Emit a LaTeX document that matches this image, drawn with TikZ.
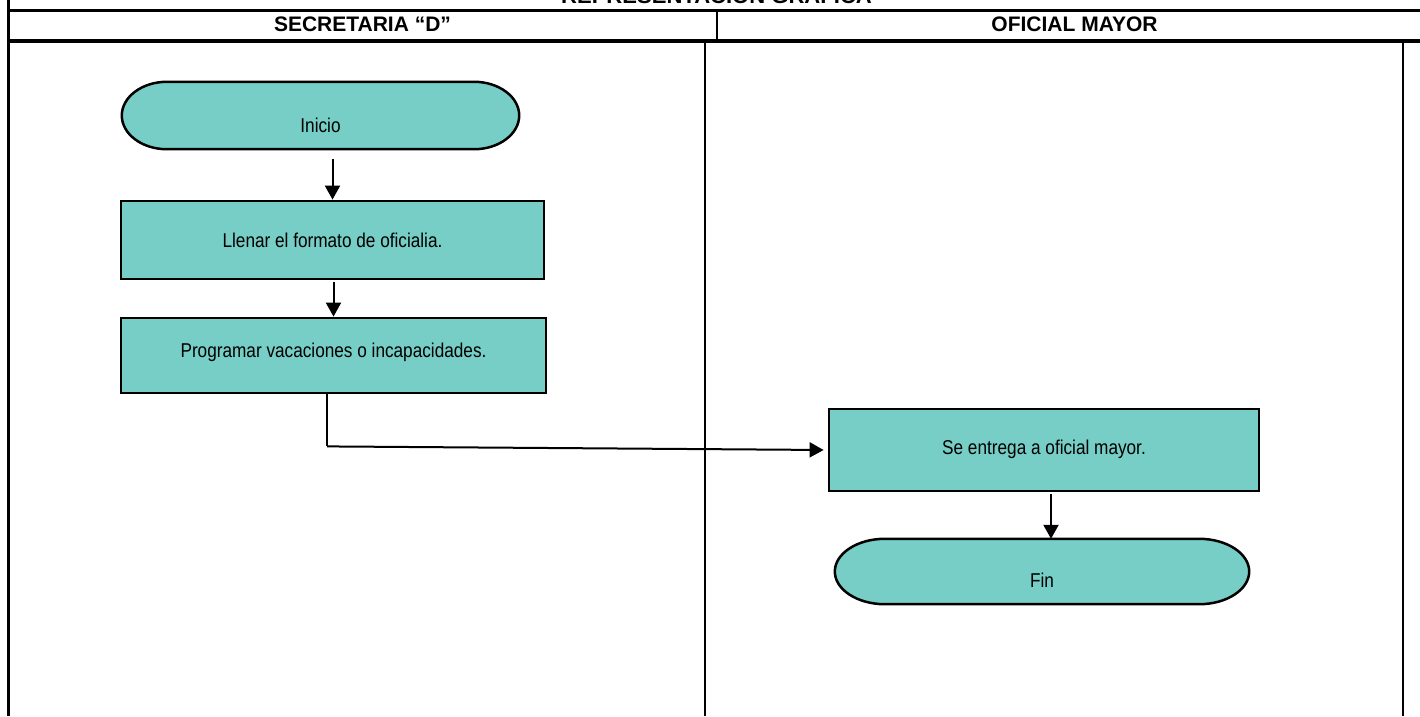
\documentclass[tikz,border=0pt]{standalone}
\usepackage{fontspec}
\usepackage{graphicx}
\setmainfont{Liberation Sans}
\usetikzlibrary{arrows.meta,backgrounds,calc}
\definecolor{tealfill}{HTML}{76CEC6}
\newcommand\tx[2]{\raisebox{#1}[0pt][0pt]{\scalebox{0.86}[1]{#2}}}
\newcommand\termpath[3]{%
  \path[termline] ([xshift=#2]#1.north west) -- ([xshift=-#2]#1.north east)
    .. controls +(0.552*#2,0pt) and +(0pt,0.552*#3) .. (#1.east)
    .. controls +(0pt,-0.552*#3) and +(0.552*#2,0pt) .. ([xshift=-#2]#1.south east)
    -- ([xshift=#2]#1.south west)
    .. controls +(-0.552*#2,0pt) and +(0pt,-0.552*#3) .. (#1.west)
    .. controls +(0pt,0.552*#3) and +(-0.552*#2,0pt) .. cycle;}
\tikzset{
  frame/.style={line width=3pt},
  lane/.style={line width=2.5pt},
  proc/.style={draw, line width=2.8pt, fill=tealfill, inner sep=0pt, font=\fontsize{20}{24}\selectfont},
  term/.style={inner sep=0pt, font=\fontsize{20}{24}\selectfont},
  termline/.style={draw, line width=2.5pt, fill=tealfill},
  arr/.style={line width=2pt, -{Triangle[length=14pt,width=15pt]}},
  hdr/.style={anchor=base, font=\bfseries\fontsize{21}{25}\selectfont, inner sep=0pt},
}
\begin{document}
\begin{tikzpicture}[x=1pt,y=-1pt]
\useasboundingbox (0,0) rectangle (1420,716);
\clip (0,0) rectangle (1420,716);
% frame
\draw[frame] (8,0) -- (8,716);
\draw[frame] (8,10) -- (1420,10);
\draw[line width=3.5pt] (8,41) -- (1420,41);
\draw[line width=2pt] (717,10) -- (717,41);
\draw[lane] (705,41) -- (705,716);
\draw[lane] (1403,41) -- (1403,716);
% headers
\node[hdr] (title) at (716.5,3.5) {\scalebox{1.05}[1]{REPRESENTACION GRAFICA}};
\node[hdr] (h1) at (362.5,31.5) {SECRETARIA “D”};
\node[hdr] (h2) at (1074.5,31.5) {OFICIAL MAYOR};
% nodes
\node[term, minimum width=397pt, minimum height=67pt] (ini) at (320.5,115.5) {\tx{-17pt}{Inicio}};
\node[proc, minimum width=423pt, minimum height=78pt] (b1) at (332.5,240) {\tx{-7pt}{Llenar el formato de oficialia.}};
\node[proc, minimum width=425pt, minimum height=75pt] (b2) at (333.5,355.5) {\tx{-1.5pt}{Programar vacaciones o incapacidades.}};
\node[proc, minimum width=430pt, minimum height=82pt] (b3) at (1044,450) {\tx{-4pt}{Se entrega a oficial mayor.}};
\node[term, minimum width=414pt, minimum height=65pt] (fin) at (1042,571.5) {\tx{-16pt}{Fin}};
\begin{scope}[on background layer]
  \fill[white] (0,0) rectangle (1420,716);
  \termpath{ini}{45pt}{33.5pt}
  \termpath{fin}{50pt}{32.5pt}
\end{scope}
% connectors
\draw[arr, shorten <=10pt] (b1.north |- ini.south) -- (b1.north);
\draw[arr, shorten <=2pt] (b2.north |- b1.south) -- (b2.north);
\draw[line width=1.2pt] ([xshift=-6.5pt]b2.south) -- ++(0,52) coordinate (k);
\draw[arr, shorten >=4pt] (k) -- (b3.west);
\draw[arr, shorten <=2pt] ([xshift=7pt]b3.south) -- ([xshift=7pt]b3.south |- fin.north);
\end{tikzpicture}
\end{document}
